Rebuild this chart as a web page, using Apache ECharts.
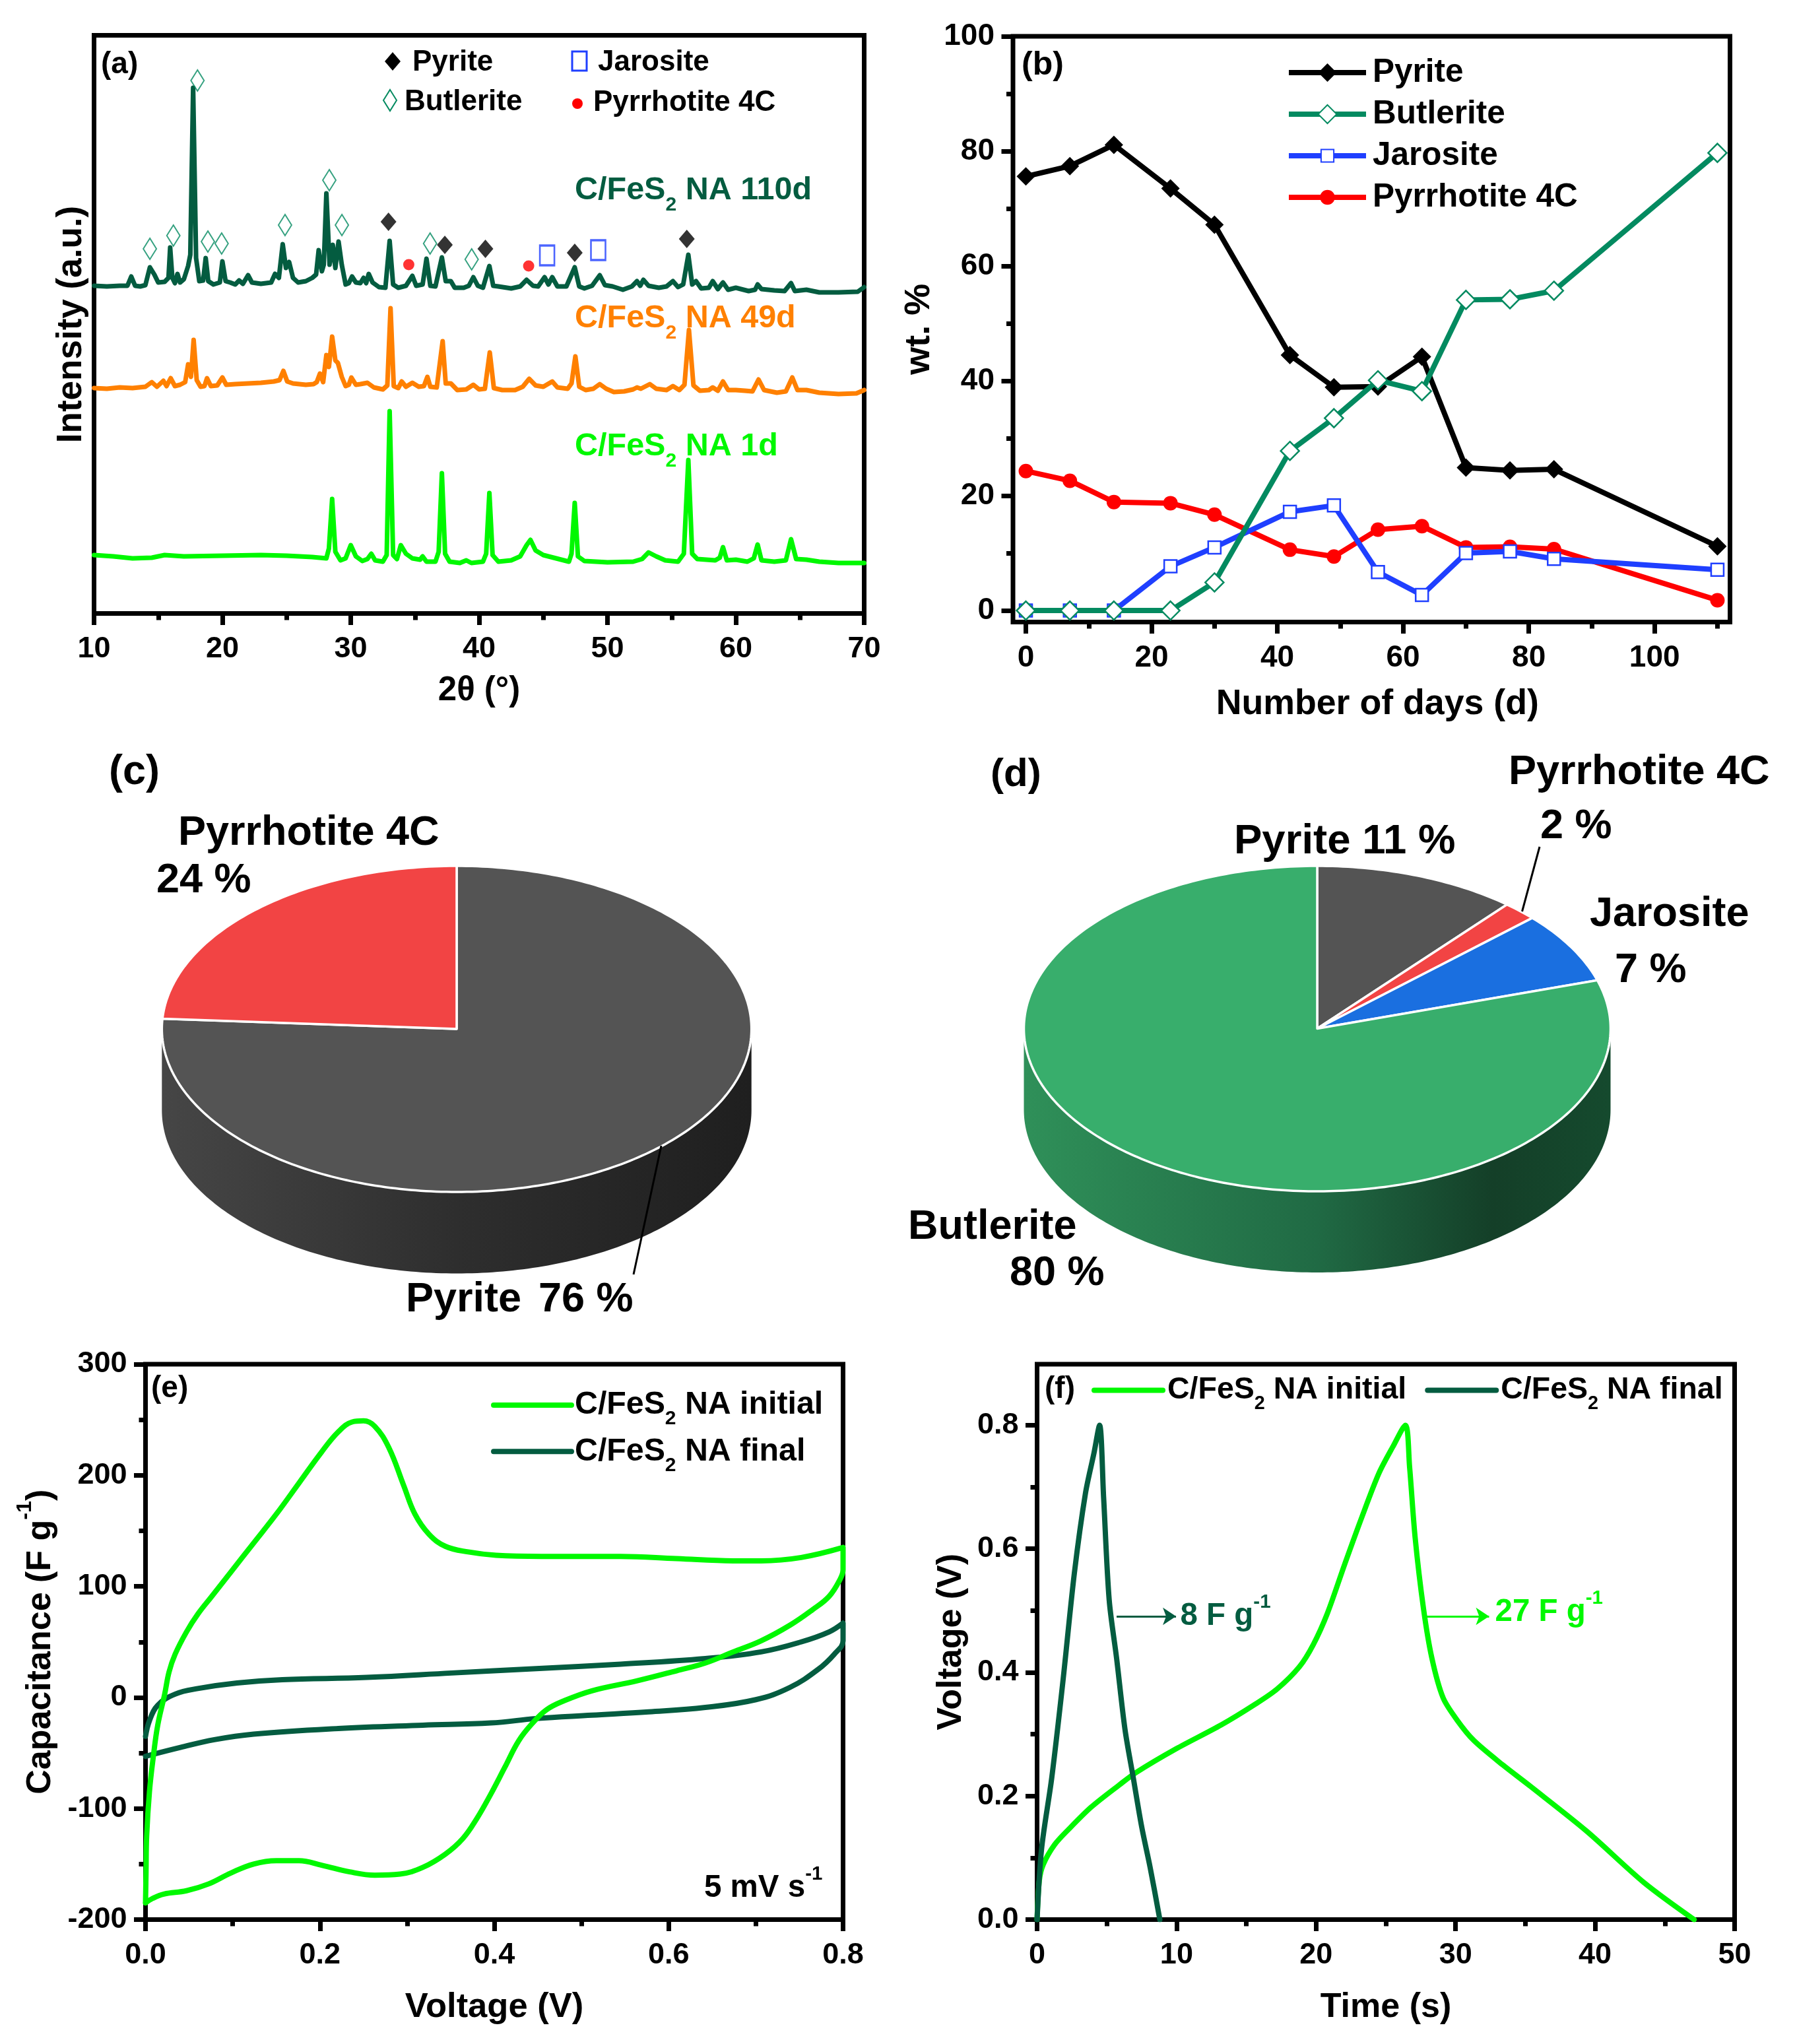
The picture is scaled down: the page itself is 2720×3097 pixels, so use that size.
<!DOCTYPE html>
<html>
<head>
<meta charset="utf-8">
<style>html,body{margin:0;padding:0;background:#fff}#chart{width:2720px;height:3097px}</style>
<script src="https://cdn.jsdelivr.net/npm/echarts@6/dist/echarts.min.js"></script>
</head>
<body>
<div id="chart"></div>
<script>
// (a) XRD patterns: [2theta, intensity in a.u.]
const xrd110d = [[10,498],[11,497],[12,498],[12.6,498],[12.9,512],[13.2,498],[13.6,497],[14,499],[14.35,526],[14.7,515],[15,503],[15.5,504],[15.8,510],[15.93,556],[16.1,510],[16.3,502],[16.5,516],[16.7,503],[17,508],[17.33,528],[17.5,545],[17.72,798],[17.95,540],[18.2,505],[18.5,506],[18.7,540],[18.9,505],[19.3,500],[19.8,503],[20,535],[20.25,505],[20.6,503],[21,500],[21.3,506],[21.6,501],[22,514],[22.3,503],[23,501],[23.8,503],[24.1,516],[24.4,510],[24.7,561],[24.95,525],[25.2,534],[25.5,510],[25.9,503],[26.5,505],[27,510],[27.3,515],[27.5,552],[27.75,520],[27.9,530],[28.1,638],[28.35,530],[28.6,560],[28.8,525],[29.05,565],[29.3,530],[29.6,500],[29.85,502],[30.1,512],[30.4,503],[30.75,502],[31,510],[31.2,502],[31.4,516],[31.7,503],[32.2,496],[32.7,495],[33.03,566],[33.3,500],[33.7,495],[34.3,498],[34.8,513],[35.1,498],[35.6,500],[35.9,539],[36.2,498],[36.6,497],[37.1,541],[37.4,505],[37.8,505],[38.1,495],[38.8,495],[39.2,498],[39.55,511],[39.9,498],[40.3,495],[40.8,528],[41.1,498],[41.5,497],[42.5,494],[43.2,497],[43.7,507],[44.2,498],[44.6,497],[45.1,511],[45.4,500],[45.7,511],[46.1,497],[46.8,497],[47.45,526],[47.8,497],[48.2,494],[48.8,498],[49.4,514],[49.8,499],[50.4,497],[51.2,492],[51.9,497],[52.3,505],[52.55,498],[52.8,507],[53.2,498],[54,495],[54.6,497],[55.1,505],[55.5,496],[55.9,500],[56.3,545],[56.6,500],[56.9,505],[57.3,494],[57.9,495],[58.2,505],[58.6,493],[59,503],[59.4,492],[60,495],[61,490],[61.5,492],[61.7,500],[62,493],[63,491],[63.8,490],[64.3,502],[64.6,490],[65.5,492],[66.5,488],[68,488],[69.5,489],[70,496]];
const xrd49d = [[10,343],[11,342],[12,344],[13,343],[14,345],[14.5,352],[14.9,345],[15.4,354],[15.65,346],[15.97,358],[16.3,346],[16.7,348],[17.1,352],[17.33,379],[17.55,360],[17.76,416],[18,355],[18.3,345],[18.6,346],[18.8,358],[19.1,346],[19.6,347],[20,359],[20.3,348],[21,349],[22,350],[23,351],[24,353],[24.45,355],[24.75,369],[25.05,353],[25.5,350],[26.5,348],[27.1,349],[27.35,352],[27.6,365],[27.85,352],[28.1,393],[28.3,375],[28.55,421],[28.8,385],[29,381],[29.3,360],[29.6,346],[29.85,348],[30.05,359],[30.4,348],[30.75,349],[31.3,351],[31.8,344],[32.5,341],[32.85,347],[33.1,464],[33.35,346],[33.7,343],[33.97,353],[34.3,345],[34.8,351],[35.3,345],[35.7,346],[35.97,360],[36.2,345],[36.7,344],[37.16,414],[37.4,350],[37.8,350],[38.3,340],[39,341],[39.55,348],[40,341],[40.45,342],[40.83,397],[41.15,343],[41.8,340],[42.8,340],[43.4,345],[43.9,357],[44.4,347],[45,345],[45.7,353],[46.1,344],[46.9,342],[47.2,350],[47.5,391],[47.8,345],[48.3,340],[48.9,342],[49.4,349],[49.9,342],[50.5,337],[51.3,338],[52,341],[52.3,344],[52.6,342],[53.3,349],[53.8,342],[54.6,340],[55.1,346],[55.6,340],[56,348],[56.35,431],[56.7,347],[57.2,339],[57.9,340],[58.2,344],[58.6,339],[59,353],[59.4,340],[60,340],[60.7,339],[61.3,338],[61.77,356],[62.2,340],[63.2,336],[63.9,338],[64.4,359],[64.8,340],[65.5,340],[66.5,336],[68,334],[69.4,335],[70,340]];
const xrd1d = [[10,90],[11.5,88],[13,85],[14.5,86],[15.5,90],[17,88],[20,89],[23,90],[25,89],[27,87],[28.1,85],[28.3,100],[28.55,175],[28.8,95],[29.2,82],[29.6,85],[30,105],[30.4,88],[30.9,81],[31.3,84],[31.6,92],[31.9,82],[32.5,80],[32.8,90],[33.03,308],[33.3,90],[33.6,84],[33.9,105],[34.3,92],[34.8,85],[35.4,83],[35.6,88],[35.9,80],[36.6,80],[36.85,95],[37.1,214],[37.35,92],[37.7,80],[38.5,78],[39,82],[39.4,78],[40.3,80],[40.55,92],[40.8,184],[41.05,90],[41.5,80],[42.5,82],[43.2,88],[43.7,105],[44,113],[44.4,97],[45,90],[46,85],[47,80],[47.2,92],[47.45,169],[47.7,88],[48.2,81],[50,79],[52,80],[52.7,84],[53.2,94],[53.8,88],[54.5,82],[55.5,80],[55.95,92],[56.3,234],[56.6,92],[57,84],[58.4,82],[58.75,86],[59,102],[59.3,82],[60,83],[60.9,80],[61.4,85],[61.7,106],[62,82],[63,80],[63.9,82],[64.3,114],[64.7,84],[65.5,83],[66.5,80],[68,78],[70,78]];
const peaksButlerite = [[14.35,554],[16.18,574],[18.06,809],[18.87,565],[19.94,562],[24.88,590],[28.33,658],[29.31,590],[36.18,562],[39.42,538]];
const peaksPyrite = [[32.94,595],[37.33,560],[40.49,554],[47.45,548],[56.18,569]];
const peaksJarosite = [[45.3,544],[49.28,552]];
const peaksPyrrhotite = [[34.52,530],[43.86,528]];

// (b) phase content against days
const days = [0,7,14,23,30,42,49,56,63,70,77,84,110];
const pyrite = [75.6,77.4,81.1,73.5,67.2,44.5,38.9,39,44.2,24.9,24.4,24.6,11.2];
const butlerite = [0,0,0,0,4.9,27.8,33.5,40.1,38.2,54.1,54.2,55.7,79.7];
const jarosite = [0,0,0,7.7,11,17.2,18.3,6.7,2.7,10,10.3,9,7.1];
const pyrrhotite = [24.3,22.6,18.9,18.7,16.7,10.6,9.4,14.1,14.7,11,11.1,10.7,1.8];

// (c) and (d) pies, clockwise from the top
const pieInitial = [76, 24];
const pieFinal = [11.2, 1.9, 7.1, 79.8];

// (e) CV loops: [voltage, capacitance]
const cvInitial = [[0,-185],[0.0006,-157],[0.0013,-125],[0.0045,-85],[0.009,-53],[0.014,-25],[0.022,3],[0.027,23],[0.034,39],[0.047,59],[0.06,75],[0.076,91],[0.098,113],[0.124,139],[0.15,165],[0.176,193],[0.202,221],[0.221,239],[0.237,248],[0.25,249],[0.263,244],[0.279,225],[0.296,191],[0.309,165],[0.325,147],[0.344,136],[0.37,131],[0.402,128],[0.454,127],[0.545,127],[0.609,125],[0.674,123],[0.706,123],[0.752,126],[0.8,135],[0.8,115],[0.797,107],[0.784,91],[0.765,79],[0.739,65],[0.706,51],[0.674,41],[0.642,31],[0.609,24],[0.564,15],[0.512,6],[0.48,-3],[0.46,-11],[0.444,-23],[0.428,-39],[0.412,-63],[0.396,-87],[0.38,-109],[0.364,-127],[0.344,-141],[0.318,-153],[0.292,-159],[0.263,-160],[0.234,-157],[0.202,-151],[0.176,-147],[0.15,-147],[0.124,-150],[0.098,-158],[0.072,-168],[0.047,-174],[0.021,-177],[0.008,-181],[0,-185]];
const cvFinal = [[0,-35],[0.0045,-21],[0.014,-7],[0.034,3],[0.06,8],[0.105,13],[0.157,16],[0.254,18],[0.351,22],[0.448,26],[0.545,30],[0.642,35],[0.706,41],[0.752,50],[0.784,59],[0.8,67],[0.8,51],[0.79,39],[0.771,25],[0.739,9],[0.7,-2],[0.642,-9],[0.577,-13],[0.512,-16],[0.448,-19],[0.396,-23],[0.318,-25],[0.221,-28],[0.124,-33],[0.079,-38],[0.04,-45],[0,-53]];

// (f) charge and discharge: [time, voltage]
const gcdInitial = [[0,0],[0.16,0.063],[0.44,0.089],[1.25,0.121],[2.26,0.146],[3.88,0.182],[5.9,0.218],[7.1,0.238],[9.94,0.276],[13.2,0.315],[15.6,0.348],[17.2,0.373],[18.8,0.409],[19.8,0.445],[20.8,0.495],[22.05,0.575],[23.26,0.65],[24.5,0.722],[25.5,0.765],[26.4,0.8],[26.7,0.733],[27.1,0.618],[27.7,0.503],[28.3,0.423],[29.1,0.359],[30.1,0.323],[31.3,0.29],[33.4,0.25],[35.4,0.215],[39.4,0.143],[43.5,0.06],[47.1,0]];
const gcdFinal = [[0,0],[0.32,0.114],[1.05,0.229],[1.86,0.387],[2.67,0.56],[3.47,0.69],[4.08,0.755],[4.48,0.8],[4.77,0.683],[5.17,0.517],[5.7,0.423],[6.3,0.308],[6.9,0.229],[7.5,0.15],[8.1,0.085],[8.8,0]];

// tick lists
const aMajorX = [10,20,30,40,50,60,70], aMinorX = [15,25,35,45,55,65];
const bMajorX = [0,20,40,60,80,100], bMinorX = [10,30,50,70,90,110];
const bMajorY = [0,20,40,60,80,100], bMinorY = [10,30,50,70,90];
const eMajorX = [0,0.2,0.4,0.6,0.8], eMinorX = [0.1,0.3,0.5,0.7];
const eMajorY = [-200,-100,0,100,200,300], eMinorY = [-150,-50,50,150,250];
const fMajorX = [0,10,20,30,40,50], fMinorX = [5,15,25,35,45];
const fMajorY = [0,0.2,0.4,0.6,0.8], fMinorY = [0.1,0.3,0.5,0.7,0.9];

const FONT = '"Liberation Sans", Arial, sans-serif';
const GREEN = '#00f800', DARK = '#045c40', ORANGE = '#ff8000', TEAL = '#038a60', BLUE = '#1f3fff', RED = '#ff0000';

function bold(size, color, extra) {
  return Object.assign({ fontFamily: FONT, fontWeight: 'bold', fontSize: size, color: color || '#000' }, extra);
}
// a = normal run, s = subscript, p = superscript
function richSet(size, color) {
  return {
    a: bold(size, color, { lineHeight: size * 1.5 }),
    s: bold(size * 0.62, color, { verticalAlign: 'bottom' }),
    p: bold(size * 0.62, color, { verticalAlign: 'top' })
  };
}

// major axis with labels, plus a second one that only draws the short ticks
function axisPair(dim, gridIndex, min, max, major, minor, name, nameGap, fmt, labelSize, rich) {
  const pos = dim === 'x' ? 'bottom' : 'left';
  const nameStyle = bold(name.size || 52, '#000', name.padding ? { padding: name.padding } : null);
  if (rich) nameStyle.rich = rich;
  return [{
    type: 'value', gridIndex, min, max, position: pos, name: name.text,
    nameLocation: 'middle', nameGap, nameTextStyle: nameStyle, nameMoveOverlap: false,
    axisLine: { show: false, onZero: false },
    splitLine: { show: false },
    axisTick: { length: 17.5, lineStyle: { width: 7, color: '#000' }, customValues: major },
    axisLabel: { margin: dim === 'x' ? 32 : 28, customValues: major, formatter: fmt, fontFamily: FONT, fontWeight: 'bold', fontSize: labelSize, color: '#000' }
  }, {
    type: 'value', gridIndex, min, max, position: pos,
    axisLine: { show: false, onZero: false },
    splitLine: { show: false },
    axisTick: { length: 10, lineStyle: { width: 7, color: '#000' }, customValues: minor },
    axisLabel: { show: false }
  }];
}

const gridBox = (left, top, width, height) => ({ left, top, width, height, show: true, borderColor: '#000', borderWidth: 7, backgroundColor: 'transparent' });
const noDim = v => String(v);
const oneDec = v => v.toFixed(1);
const richE = richSet(52);

const xAxis = [
  ...axisPair('x', 0, 10, 70, aMajorX, aMinorX, { text: '2θ (°)', size: 51 }, 92, noDim, 45),
  ...axisPair('x', 1, -2.05, 112, bMajorX, bMinorX, { text: 'Number of days (d)', size: 53.7, padding: [0, 0, 0, 18] }, 97.5, noDim, 46),
  ...axisPair('x', 2, 0, 0.8, eMajorX, eMinorX, { text: 'Voltage (V)', size: 52.5 }, 107, oneDec, 45),
  ...axisPair('x', 3, 0, 50, fMajorX, fMinorX, { text: 'Time (s)' }, 107, noDim, 45)
];
const yAxis = [
  { type: 'value', gridIndex: 0, min: 1.5, max: 877.5, name: 'Intensity (a.u.)', nameLocation: 'middle', nameGap: 8, nameRotate: 90, nameTextStyle: bold(53), axisLine: { show: false, onZero: false }, axisTick: { show: false }, axisLabel: { show: false }, splitLine: { show: false } },
  { type: 'value', gridIndex: 0, min: 1.5, max: 877.5, show: false },
  ...axisPair('y', 1, -2, 100, bMajorY, bMinorY, { text: 'wt. %', size: 54 }, 115, noDim, 46),
  ...axisPair('y', 2, -200, 300, eMajorY, eMinorY, { text: '{a|Capacitance (F g}{p|-1}{a|)}' }, 120, noDim, 45, richE),
  ...axisPair('y', 3, 0, 0.8987, fMajorY, fMinorY, { text: 'Voltage (V)' }, 104, oneDec, 45)
];

function lineOn(panel, name, data, color, width, extra) {
  return Object.assign({
    type: 'line', name, data, xAxisIndex: panel * 2, yAxisIndex: panel * 2,
    showSymbol: false, symbol: 'none', color,
    lineStyle: { color, width, cap: 'round', join: 'round' }
  }, extra);
}
function peakMarks(name, data, symbol, symbolSize, itemStyle) {
  return { type: 'scatter', name, data, xAxisIndex: 0, yAxisIndex: 0, symbol, symbolSize, itemStyle, z: 5 };
}
function dayLine(name, values, color, symbol, size, fill, z) {
  return {
    type: 'line', name, data: days.map((d, i) => [d, values[i]]), xAxisIndex: 2, yAxisIndex: 2,
    symbol, symbolSize: size, showSymbol: true, z, color,
    lineStyle: { color, width: 8 },
    itemStyle: { color: fill, borderColor: color, borderWidth: fill === color ? 0 : 2.5 }
  };
}

// flattened cylinder: top face plus the front wall
function ellipsePoint(c, deg, dy) {
  const t = deg * Math.PI / 180;
  return [c.cx + c.rx * Math.sin(t), c.cy - c.ry * Math.cos(t) + (dy || 0)];
}
function pieSeries(values, colors, wallStops, c) {
  const total = values.reduce((a, b) => a + b, 0);
  return {
    type: 'custom', coordinateSystem: 'none', silent: true, z: 3,
    data: values.map(v => [v]),
    renderItem(params, api) {
      const before = values.slice(0, params.dataIndex).reduce((a, b) => a + b, 0);
      const start = before / total * 360, end = (before + api.value(0)) / total * 360;
      const pts = [[c.cx, c.cy]];
      for (let d = start; d < end; d += 1) pts.push(ellipsePoint(c, d));
      pts.push(ellipsePoint(c, end));
      const face = { type: 'polygon', shape: { points: pts }, style: { fill: colors[params.dataIndex], stroke: '#fff', lineWidth: 3.5, lineJoin: 'round' } };
      if (params.dataIndex > 0) return face;
      const wall = [];
      for (let d = 90; d <= 270; d += 1) wall.push(ellipsePoint(c, d));
      for (let d = 270; d >= 90; d -= 1) wall.push(ellipsePoint(c, d, c.depth));
      return {
        type: 'group', children: [
          { type: 'polygon', shape: { points: wall }, style: { fill: new echarts.graphic.LinearGradient(0, 0, 1, 0, wallStops) } },
          face
        ]
      };
    }
  };
}
const series = [
  lineOn(0, 'C/FeS2 NA 1d', xrd1d, GREEN, 7),
  lineOn(0, 'C/FeS2 NA 49d', xrd49d, ORANGE, 7),
  lineOn(0, 'C/FeS2 NA 110d', xrd110d, DARK, 7),
  peakMarks('Butlerite peaks', peaksButlerite, 'diamond', [20, 32], { color: 'rgba(255,255,255,0)', borderColor: TEAL, borderWidth: 2 }),
  peakMarks('Pyrite peaks', peaksPyrite, 'diamond', [24, 28], { color: '#000' }),
  peakMarks('Jarosite peaks', peaksJarosite, 'rect', [22, 30], { color: 'rgba(255,255,255,0)', borderColor: BLUE, borderWidth: 3 }),
  peakMarks('Pyrrhotite peaks', peaksPyrrhotite, 'circle', [17, 17], { color: RED }),

  dayLine('Pyrrhotite 4C', pyrrhotite, RED, 'circle', 22, RED, 2),
  dayLine('Pyrite', pyrite, '#000', 'diamond', 28, '#000', 3),
  dayLine('Jarosite', jarosite, BLUE, 'rect', 19, '#fff', 4),
  dayLine('Butlerite', butlerite, TEAL, 'diamond', 28, '#fff', 5),

  lineOn(2, 'C/FeS2 NA final', cvFinal, DARK, 8, { smooth: 0.4 }),
  lineOn(2, 'C/FeS2 NA initial', cvInitial, GREEN, 8, { smooth: 0.4 }),
  lineOn(3, 'C/FeS2 NA initial ', gcdInitial, GREEN, 8, {
    smooth: 0.3,
    markLine: { silent: true, symbol: ['none', 'arrow'], symbolSize: 20, label: { show: false }, animation: false,
      lineStyle: { color: GREEN, width: 3, type: 'solid' },
      data: [[{ coord: [27.9, 0.4907] }, { coord: [32.4, 0.4907] }]] }
  }),
  lineOn(3, 'C/FeS2 NA final ', gcdFinal, DARK, 8, {
    smooth: 0.3,
    markLine: { silent: true, symbol: ['none', 'arrow'], symbolSize: 20, label: { show: false }, animation: false,
      lineStyle: { color: DARK, width: 3, type: 'solid' },
      data: [[{ coord: [5.7, 0.4907] }, { coord: [9.96, 0.4907] }]] }
  }),

  pieSeries(pieInitial, ['#545454', '#f24444'], [{ offset: 0, color: '#464646' }, { offset: 0.5, color: '#2e2e2e' }, { offset: 1, color: '#1f1f1f' }], { cx: 692, cy: 1559, rx: 446.7, ry: 247, depth: 123.5 }),
  pieSeries(pieFinal, ['#545454', '#f24444', '#1a6fe0', '#38ae6c'], [{ offset: 0, color: '#2f9059' }, { offset: 0.5, color: '#206a44' }, { offset: 0.8, color: '#143f28' }, { offset: 1, color: '#154a2e' }], { cx: 1996, cy: 1558.5, rx: 444.5, ry: 246.5, depth: 123 })
];

function label(x, y, text, size, color, rich) {
  const style = { text, x: 0, y: 0, fill: color || '#000', align: 'left', verticalAlign: 'middle', fontFamily: FONT, fontWeight: 'bold', fontSize: size };
  if (rich) style.rich = rich;
  return { type: 'text', x, y, z: 50, style };
}
const leader = (x1, y1, x2, y2) => ({ type: 'line', z: 50, shape: { x1, y1, x2, y2 }, style: { stroke: '#000', lineWidth: 3 } });
const key = (type, shape, style) => ({ type, z: 50, shape, style });

const graphic = [
  label(153, 98, '(a)', 46),
  key('polygon', { points: [[595, 79], [607, 93], [595, 107], [583, 93]] }, { fill: '#000' }),
  label(625, 95, 'Pyrite', 44),
  key('rect', { x: 867, y: 78, width: 22, height: 29 }, { fill: 'none', stroke: BLUE, lineWidth: 3 }),
  label(906, 95, 'Jarosite', 44),
  key('polygon', { points: [[591, 136], [601, 152], [591, 168], [581, 152]] }, { fill: 'none', stroke: TEAL, lineWidth: 2 }),
  label(613, 155, 'Butlerite', 44),
  key('circle', { cx: 875, cy: 157, r: 8 }, { fill: RED }),
  label(899, 156, 'Pyrrhotite 4C', 44),
  label(871, 289, '{a|C/FeS}{s|2}{a| NA 110d}', 48.5, DARK, richSet(48.5, DARK)),
  label(871, 483, '{a|C/FeS}{s|2}{a| NA 49d}', 48.5, ORANGE, richSet(48.5, ORANGE)),
  label(871, 677, '{a|C/FeS}{s|2}{a| NA 1d}', 48.5, GREEN, richSet(48.5, GREEN)),
  label(1548, 99, '(b)', 50),

  label(165, 1171, '(c)', 63),
  label(270, 1263, 'Pyrrhotite 4C', 63),
  label(237, 1335, '24 %', 63),
  label(615, 1970, 'Pyrite', 63),
  label(816, 1970, '76 %', 63),
  leader(1002, 1736, 960, 1931),

  label(1501, 1174, '(d)', 60),
  label(2286, 1171, 'Pyrrhotite 4C', 63),
  label(2334, 1253, '2 %', 63),
  label(1870, 1275, 'Pyrite 11 %', 63.5),
  label(2409, 1386, 'Jarosite', 63),
  label(2447, 1471, '7 %', 63),
  label(1376, 1860, 'Butlerite', 63),
  label(1530, 1930, '80 %', 63),
  leader(2333, 1283, 2306.5, 1381),

  label(229, 2104, '(e)', 46),
  label(1067, 2861, '{a|5 mV s}{p|-1}', 47.5, '#000', richSet(47.5)),
  label(1583, 2105, '(f)', 46),
  label(1788.5, 2449, '{a|8 F g}{p|-1}', 47.5, DARK, richSet(47.5, DARK)),
  label(2265.5, 2443, '{a|27 F g}{p|-1}', 47.5, GREEN, richSet(47.5, GREEN))
];

const formatFeS = name => {
  const [, tail] = name.trim().match(/NA (.+)$/);
  return '{a|C/FeS}{s|2}{a| NA ' + tail + '}';
};
// one legend per row in (b): the marker size follows itemHeight
const dayKey = (name, centre, itemHeight) => ({
  data: [name], left: 1949, top: centre - 21, padding: 0, itemWidth: 117, itemHeight, selectedMode: false,
  lineStyle: { width: 8 },
  textStyle: bold(49.5, '#000', { padding: [0, 0, 0, 5] })
});
const legend = [
  dayKey('Pyrite', 106, 35),
  dayKey('Butlerite', 169, 35),
  dayKey('Jarosite', 232, 24),
  dayKey('Pyrrhotite 4C', 295, 28),
  {
    data: ['C/FeS2 NA initial', 'C/FeS2 NA final'], orient: 'vertical', left: 744, top: 2105, padding: 0,
    itemWidth: 118, itemHeight: 30, itemGap: 10, selectedMode: false, formatter: formatFeS,
    lineStyle: { width: 8 }, itemStyle: { opacity: 0 },
    textStyle: { padding: [0, 0, 0, 0], rich: richSet(48.3) }
  },
  {
    data: ['C/FeS2 NA initial ', 'C/FeS2 NA final '], orient: 'horizontal', left: 1654, top: 2083, padding: 0,
    itemWidth: 104, itemHeight: 30, itemGap: 28, selectedMode: false, formatter: formatFeS,
    lineStyle: { width: 8 }, itemStyle: { opacity: 0 },
    textStyle: { padding: [0, 0, 0, 2], rich: richSet(46.5) }
  }
];

const chart = echarts.init(document.getElementById('chart'));
chart.setOption({
  animation: false,
  backgroundColor: '#fff',
  grid: [gridBox(142.5, 53.5, 1167, 876), gridBox(1535, 55, 1086.5, 887.5), gridBox(220.5, 2067, 1057, 841.5), gridBox(1571.5, 2067, 1057, 841.5)],
  xAxis, yAxis, series, legend, graphic
});
</script>
</body>
</html>
